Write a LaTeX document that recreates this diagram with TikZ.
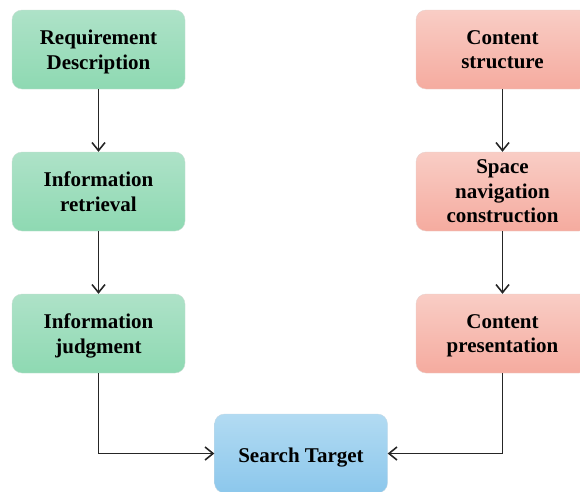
\documentclass[tikz,border=0pt]{standalone}
\usepackage{fontspec}
\setmainfont{Liberation Serif}
\usetikzlibrary{arrows.meta}
\definecolor{gtop}{HTML}{AEE2C8}
\definecolor{gbot}{HTML}{8ED9B2}
\definecolor{ptop}{HTML}{F9CDC5}
\definecolor{pbot}{HTML}{F5AB9F}
\definecolor{btop}{HTML}{B2DBF2}
\definecolor{bbot}{HTML}{8CC7EC}
\tikzset{
  x=1pt, y=-1pt,
  card/.style={rounded corners=10pt, minimum width=173pt, minimum height=79pt,
    align=center, font=\bfseries\fontsize{21}{24.5}\selectfont, text=black,
    line width=0.4pt, text depth=-2.5pt,
    execute at begin node=\strut},
  lbox/.style={card, draw=gbot!80!black!40!white, top color=gtop, bottom color=gbot},
  rbox/.style={card, draw=pbot!80!black!40!white, top color=ptop, bottom color=pbot},
  tbox/.style={card, draw=bbot!80!black!40!white, top color=btop, bottom color=bbot},
  flowarrow/.style={draw=black!85, line width=1.6pt,
    -{Straight Barb[length=8pt,width=13pt,line width=1.6pt]}}
}
\begin{document}
\begin{tikzpicture}
\useasboundingbox (0,0) rectangle (580,491);
% left column
\node[lbox] (req) at (98.5,49.5) {Requirement\\Description};
\node[lbox] (ret) at (98.5,191.5) {Information\\retrieval};
\node[lbox] (jud) at (98.5,333.5) {Information\\judgment};
% right column
\node[rbox] (cst) at (502.5,49.5) {Content\\structure};
\node[rbox] (nav) at (502.5,191.5) {Space\\navigation\\construction};
\node[rbox] (pre) at (502.5,333.5) {Content\\presentation};
% goal
\node[tbox] (tgt) at (301,453.5) {Search Target};
% connectors
\draw[flowarrow] (req) -- (ret);
\draw[flowarrow] (ret) -- (jud);
\draw[flowarrow] (cst) -- (nav);
\draw[flowarrow] (nav) -- (pre);
\draw[flowarrow] (jud.south) |- (tgt.west);
\draw[flowarrow] (pre.south) |- (tgt.east);
\end{tikzpicture}
\end{document}
